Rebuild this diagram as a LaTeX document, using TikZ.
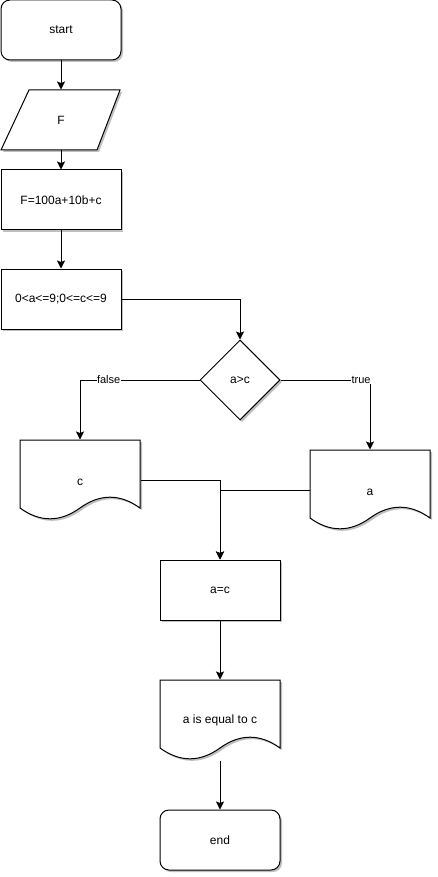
\documentclass[tikz,border=0pt]{standalone}
\usepackage{fontspec}
\setmainfont{Liberation Sans}
\usetikzlibrary{shapes.geometric,arrows.meta,shadows}
\begin{document}
\begin{tikzpicture}[x=1pt,y=-1pt,line width=1pt,
  font=\fontsize{12}{14}\selectfont,
  shade/.style={drop shadow={shadow xshift=2pt,shadow yshift=-2pt,opacity=0.25,fill=black}},
  box/.style={draw,fill=white,shade,minimum width=120pt,minimum height=60pt,inner sep=0pt},
  term/.style={box,rounded corners=9pt},
  holder/.style={minimum width=120pt,minimum height=#1,inner sep=0pt},
  cond/.style={draw,fill=white,shade,diamond,aspect=1,minimum width=80pt,minimum height=80pt,inner sep=0pt},
  flow/.style={-{Stealth[length=8pt,width=8pt,inset=1.5pt]}},
  tag/.style={fill=white,font=\fontsize{11}{13}\selectfont,inner sep=0.5pt}]
\useasboundingbox (0,0) rectangle (437,877);

% document symbol with wavy lower edge, top-left corner at (#1,#2)
\newcommand{\docshape}[2]{%
  \draw[fill=white,shade] (#1,#2) -- ++(120,0) -- ++(0,68)
    .. controls ++(-20,-14.4) and ++(20,-14.4) .. ++(-60,0)
    .. controls ++(-20,14.4) and ++(20,14.4) .. ++(-60,0) -- cycle;}

\node[term] (start) at (61,30) {start};

\draw[fill=white,shade] (29,90) -- (120,90) -- (97,150) -- (1,150) -- cycle;
\node[holder=60pt] (in) at (61,120) {F};

\node[box] (calc) at (61,200) {F=100a+10b+c};
\node[box] (range) at (61,299) {0<a<=9;0<=c<=9};

\node[cond] (test) at (240,380) {a>c};

\docshape{20}{440}
\node[holder=80pt] (outc) at (80,480) {};
\node at (80,482) {c};

\docshape{310}{450}
\node[holder=80pt] (outa) at (370,490) {};
\node at (370,492) {a};

\node[box] (assign) at (220,590) {a=c};

\docshape{160}{680}
\node[holder=80pt] (msg) at (220,720) {a is equal to c};

\node[term] (end) at (220,840) {end};

\draw[flow] (start) -- (in);
\draw[flow] (in) -- (calc);
\draw[flow] (calc) -- (range);
\draw[flow] (range.east) -| (test.north);
\draw[flow] (test.west) -| node[tag,pos=0.38] {false} (outc.north);
\draw[flow] (test.east) -| node[tag,pos=0.45] {true} (outa.north);
\draw[flow] (outc.east) -| (assign.north);
\draw[flow] (outa.west) -| (assign.north);
\draw[flow] (assign) -- (msg);
\draw[flow] (msg.south) -- (end.north);
\end{tikzpicture}
\end{document}
